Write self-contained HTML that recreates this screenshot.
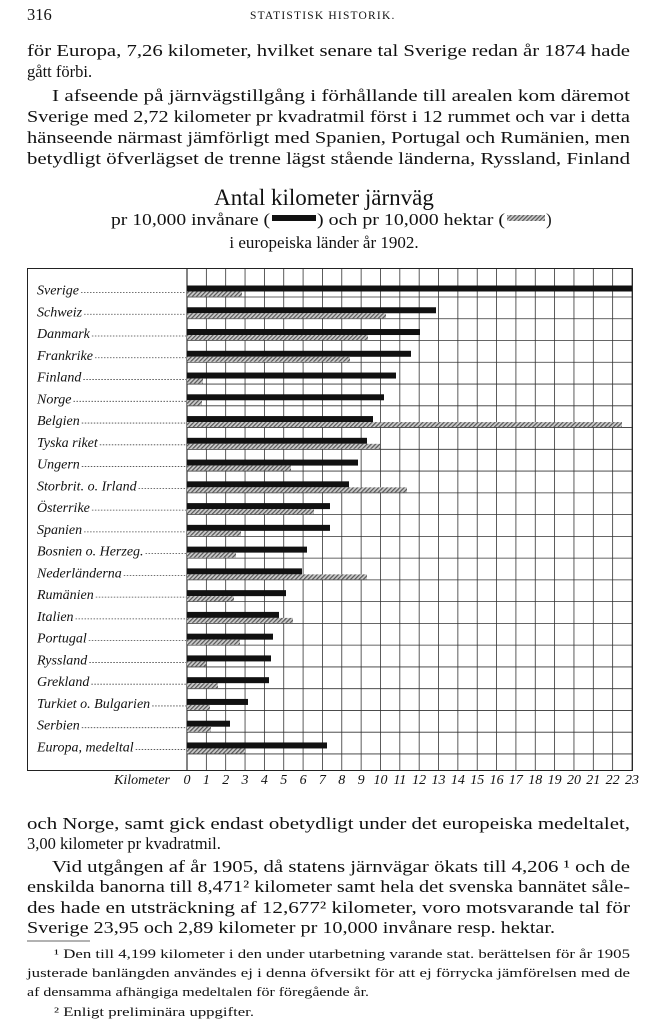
<!DOCTYPE html>
<html><head><meta charset="utf-8"><style>
html,body{margin:0;padding:0;background:#fff}
svg{display:block}
.b{font-family:"Liberation Serif",serif;font-size:16.5px;fill:#111}
.f{font-family:"Liberation Serif",serif;font-size:12.5px;fill:#111}
.l{font-family:"Liberation Serif",serif;font-style:italic;font-size:14px;fill:#111}
.t{font-family:"Liberation Serif",serif;fill:#111}
</style></head><body>
<svg width="648" height="1032" viewBox="0 0 648 1032" xmlns="http://www.w3.org/2000/svg">
<defs>
<pattern id="h" width="3" height="3" patternUnits="userSpaceOnUse" patternTransform="rotate(45)">
<rect width="3" height="3" fill="#ccc"/><rect width="1.2" height="3" fill="#555"/></pattern>
</defs>
<text x="27" y="20" class="b" font-size="15">316</text>
<text x="250" y="19" class="t" font-size="11.5" letter-spacing="1.2">STATISTISK HISTORIK.</text>
<text x="27" y="56" class="b" textLength="603" lengthAdjust="spacingAndGlyphs">för Europa, 7,26 kilometer, hvilket senare tal Sverige redan år 1874 hade</text>
<text x="27" y="77" class="b">gått förbi.</text>
<text x="52" y="101" class="b" textLength="578" lengthAdjust="spacingAndGlyphs">I afseende på järnvägstillgång i förhållande till arealen kom däremot</text>
<text x="27" y="122" class="b" textLength="603" lengthAdjust="spacingAndGlyphs">Sverige med 2,72 kilometer pr kvadratmil först i 12 rummet och var i detta</text>
<text x="27" y="143" class="b" textLength="603" lengthAdjust="spacingAndGlyphs">hänseende närmast jämförligt med Spanien, Portugal och Rumänien, men</text>
<text x="27" y="164" class="b" textLength="603" lengthAdjust="spacingAndGlyphs">betydligt öfverlägset de trenne lägst stående länderna, Ryssland, Finland</text>
<text x="324" y="205" class="t" font-size="23" text-anchor="middle">Antal kilometer järnväg</text>
<text x="111" y="225" class="t" font-size="17" textLength="159" lengthAdjust="spacingAndGlyphs">pr 10,000 invånare (</text>
<rect x="272" y="215" width="44" height="6" fill="#111"/>
<text x="317" y="225" class="t" font-size="17" textLength="188" lengthAdjust="spacingAndGlyphs">) och pr 10,000 hektar (</text>
<rect x="507" y="215" width="38" height="6" fill="url(#h)"/>
<text x="546" y="225" class="t" font-size="17">)</text>
<text x="324" y="248" class="t" font-size="17" text-anchor="middle">i europeiska länder år 1902.</text>
<rect x="27.5" y="268.5" width="605" height="502" fill="none" stroke="#222" stroke-width="1"/>
<g id="grid" stroke="#333" stroke-width="0.8"></g>
<g id="bars"></g>
<g id="labels"></g>
<g id="ax"></g>
<text x="27" y="829" class="b" textLength="603" lengthAdjust="spacingAndGlyphs">och Norge, samt gick endast obetydligt under det europeiska medeltalet,</text>
<text x="27" y="849" class="b">3,00 kilometer pr kvadratmil.</text>
<text x="52" y="872" class="b" textLength="578" lengthAdjust="spacingAndGlyphs">Vid utgången af år 1905, då statens järnvägar ökats till 4,206 ¹ och de</text>
<text x="27" y="892" class="b" textLength="603" lengthAdjust="spacingAndGlyphs">enskilda banorna till 8,471² kilometer samt hela det svenska bannätet såle-</text>
<text x="27" y="913" class="b" textLength="603" lengthAdjust="spacingAndGlyphs">des hade en utsträckning af 12,677² kilometer, voro motsvarande tal för</text>
<text x="27" y="933" class="b" textLength="528" lengthAdjust="spacingAndGlyphs">Sverige 23,95 och 2,89 kilometer pr 10,000 invånare resp. hektar.</text>
<line x1="27" y1="941" x2="90" y2="941" stroke="#333" stroke-width="0.8"/>
<text x="54" y="958" class="f" textLength="576" lengthAdjust="spacingAndGlyphs">¹ Den till 4,199 kilometer i den under utarbetning varande stat. berättelsen för år 1905</text>
<text x="27" y="977" class="f" textLength="603" lengthAdjust="spacingAndGlyphs">justerade banlängden användes ej i denna öfversikt för att ej förrycka jämförelsen med de</text>
<text x="27" y="996" class="f" textLength="342" lengthAdjust="spacingAndGlyphs">af densamma afhängiga medeltalen för föregående år.</text>
<text x="54" y="1016" class="f" textLength="200" lengthAdjust="spacingAndGlyphs">² Enligt preliminära uppgifter.</text>
<script>
var ns="http://www.w3.org/2000/svg";
function el(p,t,a,txt){var e=document.createElementNS(ns,t);for(var k in a)e.setAttribute(k,a[k]);if(txt)e.textContent=txt;document.getElementById(p).appendChild(e);return e;}
var x0=187,u=445/23;
for(var i=0;i<=23;i++){var x=x0+i*u;el("grid","line",{x1:x,y1:269,x2:x,y2:770});}
for(var r=0;r<22;r++){var y=297+r*21.76;el("grid","line",{x1:187,y1:y,x2:632,y2:y});}
el("grid","line",{x1:187,y1:269,x2:187,y2:770,"stroke-width":1.2});
var d=[["Sverige",632,242],["Schweiz",436,386],["Danmark",420,368],["Frankrike",411,350],["Finland",396,203],["Norge",384,202],["Belgien",373,622],["Tyska riket",367,380],["Ungern",358,291],["Storbrit. o. Irland",349,407],["Österrike",330,314],["Spanien",330,241],["Bosnien o. Herzeg.",307,236],["Nederländerna",302,367],["Rumänien",286,234],["Italien",279,293],["Portugal",273,240],["Ryssland",271,206],["Grekland",269,218],["Turkiet o. Bulgarien",248,210],["Serbien",230,211],["Europa, medeltal",327,245]];
d.forEach(function(r,i){var y=285.5+i*21.76;
el("bars","rect",{x:187,y:y,width:r[1]-187,height:6,fill:"#111"});
el("bars","rect",{x:187,y:y+6,width:r[2]-187,height:5,fill:"url(#h)"});
var t=el("labels","text",{x:37,y:y+9,"class":"l"},r[0]);
var w=t.getComputedTextLength();
el("labels","line",{x1:37+w+2,y1:y+7,x2:186,y2:y+7,stroke:"#444","stroke-width":0.8,"stroke-dasharray":"1.5,1.5"});
});
el("ax","text",{x:170,y:784,"class":"l","font-size":"12","text-anchor":"end"},"Kilometer");
for(var i=0;i<=23;i++)el("ax","text",{x:x0+i*u,y:784,"class":"l","font-size":"12","text-anchor":"middle"},""+i);
</script>
</svg>
</body></html>
